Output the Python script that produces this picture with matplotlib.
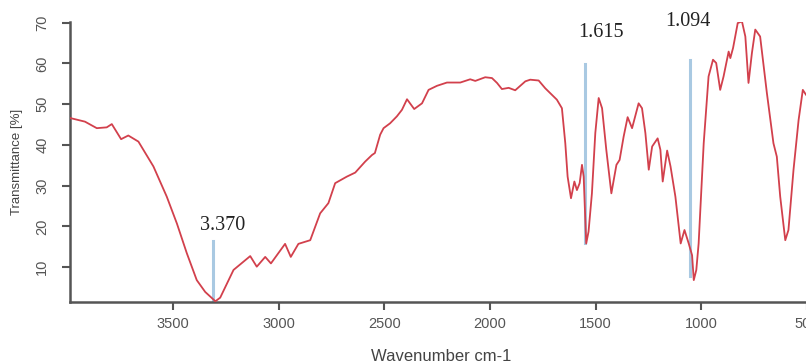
import matplotlib
matplotlib.use("Agg")
import matplotlib.pyplot as plt

# IR-Spektrum, Werte
wavenumber = [
    3988, 3917, 3861, 3814, 3790, 3746, 3712, 3664, 3593, 3530, 3482, 3435,
    3388, 3348, 3306, 3300, 3277, 3214, 3135, 3104, 3064, 3037, 2970, 2943,
    2907, 2851, 2804, 2765, 2733, 2678, 2638, 2591, 2559, 2545, 2520, 2504,
    2473, 2441, 2417, 2393, 2359, 2322, 2291, 2251, 2204, 2141, 2094, 2070,
    2023, 1991, 1967, 1944, 1912, 1881, 1833, 1810, 1770, 1739, 1684, 1660,
    1644, 1633, 1617, 1601, 1589, 1576, 1565, 1557, 1545, 1534, 1518, 1502,
    1486, 1470, 1450, 1426, 1402, 1387, 1368, 1349, 1328, 1297, 1281, 1265,
    1249, 1233, 1207, 1194, 1183, 1162, 1146, 1123, 1098, 1080, 1060, 1044,
    1036, 1024, 1013, 989, 966, 945, 930, 911, 895, 871, 863, 850,
    828, 808, 792, 777, 761, 745, 722, 690, 659, 643, 627, 603,
    588, 564, 540, 520, 505, 480,
]
transmittance = [
    46.6, 45.7, 44.1, 44.3, 45.1, 41.4, 42.3, 40.8, 34.7, 27.3, 20.7, 13.4,
    6.8, 3.9, 1.9, 1.6, 2.5, 9.3, 12.7, 10.1, 12.5, 10.9, 15.7, 12.5,
    15.7, 16.6, 23.2, 25.7, 30.6, 32.2, 33.2, 35.9, 37.5, 38.0, 42.5, 44.1,
    45.3, 47.0, 48.6, 51.2, 48.8, 50.2, 53.5, 54.5, 55.3, 55.3, 56.1, 55.7,
    56.6, 56.4, 55.2, 53.7, 54.0, 53.4, 55.6, 56.0, 55.8, 53.9, 51.1, 49.0,
    40.4, 32.2, 26.9, 31.0, 28.9, 30.6, 35.1, 32.2, 15.8, 18.7, 28.1, 42.9,
    51.5, 49.0, 38.8, 28.1, 35.1, 36.3, 42.0, 46.8, 44.1, 50.2, 49.0, 42.9,
    33.9, 39.6, 41.6, 38.8, 31.0, 38.6, 34.7, 27.3, 15.8, 19.1, 15.8, 12.9,
    6.8, 9.3, 15.8, 40.4, 56.8, 60.9, 60.1, 53.5, 56.8, 62.9, 61.3, 63.8,
    69.9, 70.3, 66.6, 55.2, 62.5, 68.3, 66.6, 52.7, 40.4, 37.1, 27.3, 16.6,
    19.1, 33.9, 46.1, 53.5, 52.3, 51.0,
]

# markierte Banden: Label, Linienposition, Linienbereich, Textposition
peak_labels = ["3.370", "1.615", "1.094"]
peak_line_x = [3311, 1549, 1052]
peak_line_y0 = [1.9, 15.9, 7.8]
peak_line_y1 = [16.4, 59.9, 60.9]
peak_text_x = [3266, 1476, 1064]
peak_text_y = [20.1, 67.7, 70.3]

x_ticks = [3500, 3000, 2500, 2000, 1500, 1000, 500]
y_ticks = [10, 20, 30, 40, 50, 60, 70]

gray = "#555555"
fig = plt.figure(figsize=(8.06, 3.64), dpi=100)
ax = fig.add_axes([0.0868, 0.170, 0.920, 0.770])

ax.plot(wavenumber, transmittance, color="#d2404c", lw=1.3, zorder=3)
for x, y0, y1 in zip(peak_line_x, peak_line_y0, peak_line_y1):
    ax.plot([x, x], [y0, y1], color="#a9c9e2", lw=2.2, zorder=2)
for lab, x, y in zip(peak_labels, peak_text_x, peak_text_y):
    ax.text(x, y, lab, ha="center", va="center", fontsize=14.5,
            family="Liberation Serif", color="#222222", clip_on=False)

ax.set_xlim(3988, 479)
ax.set_ylim(1.4, 70.2)
ax.set_xticks(x_ticks)
ax.set_yticks(y_ticks)
ax.set_yticklabels([str(v) for v in y_ticks], rotation=90, va="center")

for side in ["top", "right"]:
    ax.spines[side].set_visible(False)
for side in ["left", "bottom"]:
    ax.spines[side].set_color(gray)
    ax.spines[side].set_linewidth(1.8)
ax.tick_params(colors=gray, labelcolor=gray, length=6, width=1.5,
               labelsize=10.5)
ax.tick_params(axis="x", pad=5)
ax.tick_params(axis="y", pad=9)
for lab in ax.get_xticklabels() + ax.get_yticklabels():
    lab.set_family("Liberation Sans")

ax.set_xlabel("Wavenumber cm-1", fontsize=12, color="#444444",
              family="Liberation Sans", labelpad=13)
ax.set_ylabel("Transmittance [%]", fontsize=9.5, color="#444444",
              family="Liberation Sans", labelpad=9)

fig.savefig("out.png", dpi=100)
